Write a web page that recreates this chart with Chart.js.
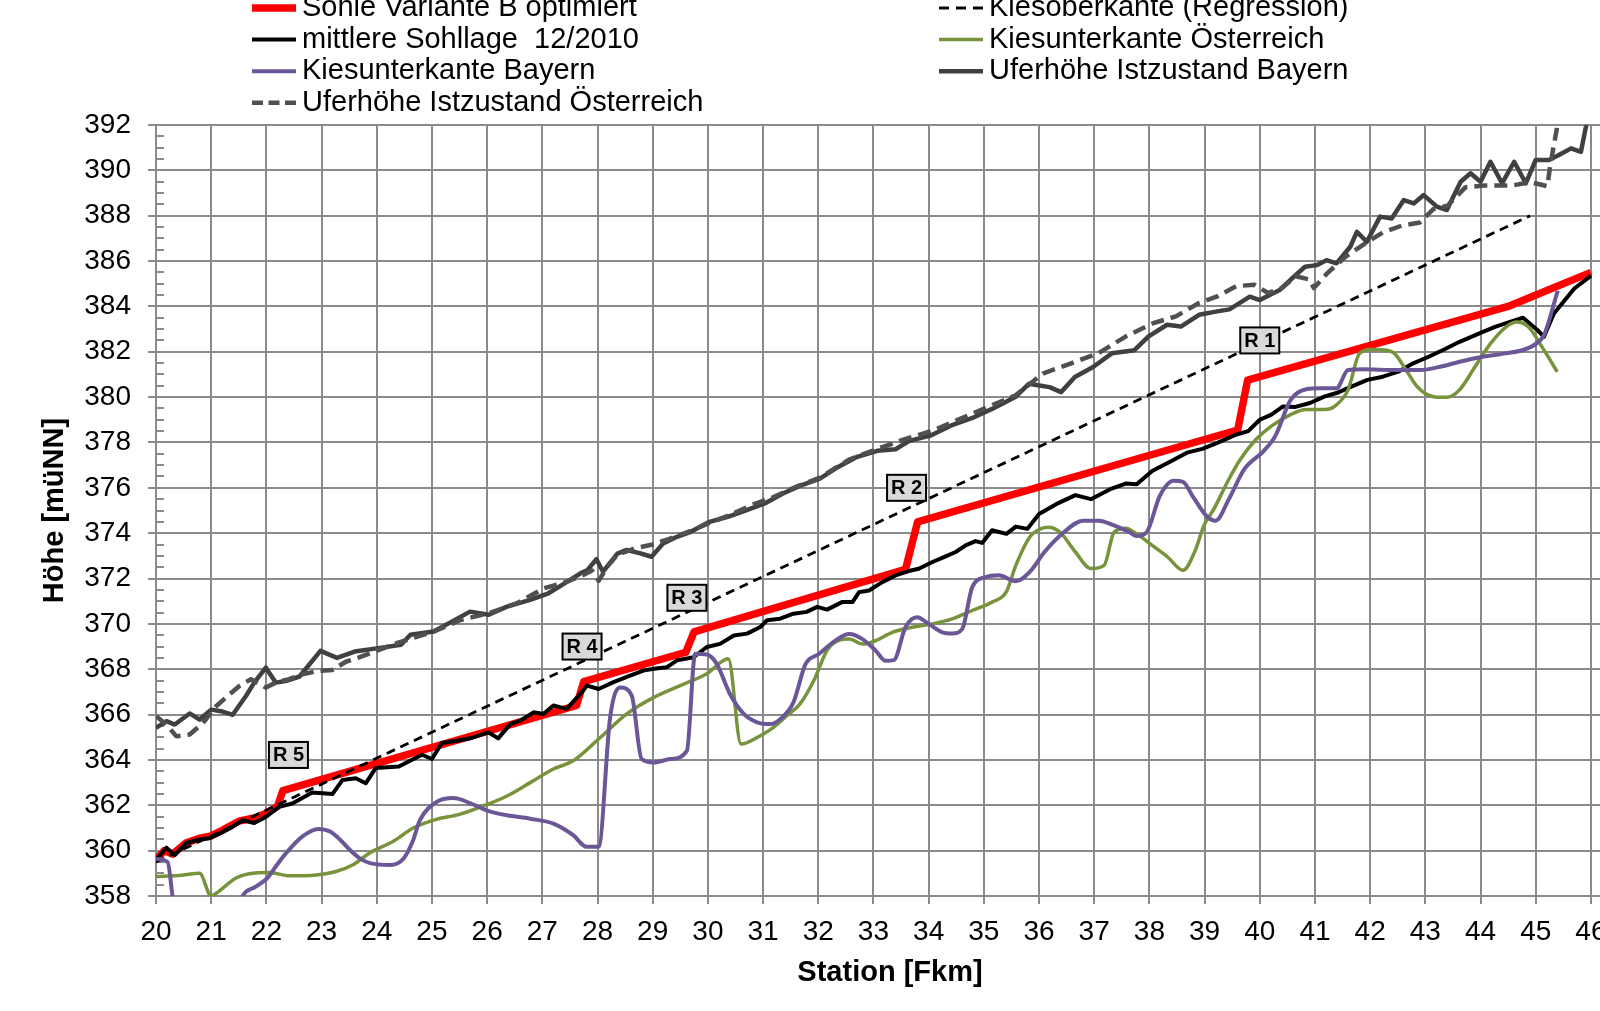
<!DOCTYPE html>
<html lang="de">
<head>
<meta charset="utf-8">
<title>Längsschnitt Sohle</title>
<script src="https://cdn.jsdelivr.net/npm/chart.js@4.4.1/dist/chart.umd.min.js"></script>
<style>
    html, body { margin: 0; padding: 0; background: #ffffff; overflow: hidden; }
    #wrap { position: relative; width: 1660px; height: 1011px; }
</style>
</head>
<body>
<div id="wrap"><canvas id="profileChart" width="1660" height="1011"></canvas></div>
<script>
// Axis ticks
const stationTicks = [20, 21, 22, 23, 24, 25, 26, 27, 28, 29, 30, 31, 32, 33, 34, 35, 36, 37, 38, 39, 40, 41, 42, 43, 44, 45, 46];
const hoeheTicks = [358, 360, 362, 364, 366, 368, 370, 372, 374, 376, 378, 380, 382, 384, 386, 388, 390, 392];

// Sohle Variante B optimiert
const sohleKm = [20.0, 20.15, 20.3, 20.55, 20.8, 21.0, 21.2, 21.5, 21.8, 22.0, 22.2, 22.3, 27.62, 27.75, 29.6, 29.75, 33.58, 33.8, 39.6, 39.78, 44.5, 46.0];
const sohleH = [359.6, 360.0, 359.85, 360.35, 360.55, 360.65, 360.9, 361.3, 361.45, 361.65, 361.95, 362.65, 366.4, 367.45, 368.75, 369.65, 372.4, 374.5, 378.55, 380.75, 384.0, 385.5];

// Kiesoberkante (Regression)
const regressionKm = [20.0, 44.9];
const regressionH = [359.5, 388.0];

// mittlere Sohllage 12/2010
const sohllageKm = [
    20.0, 20.19, 20.34, 20.55, 20.79, 20.97, 21.15, 21.35, 21.57, 21.78,
    21.99, 22.23, 22.47, 22.83, 23.2, 23.38, 23.62, 23.8, 23.98, 24.4,
    24.82, 25.0, 25.18, 25.45, 25.72, 26.02, 26.2, 26.42, 26.6, 26.84,
    27.02, 27.2, 27.44, 27.69, 27.81, 28.02, 28.29, 28.59, 28.83, 29.02,
    29.26, 29.44, 29.74, 29.98, 30.22, 30.47, 30.71, 30.95, 31.07, 31.31,
    31.55, 31.79, 31.98, 32.16, 32.43, 32.62, 32.74, 32.92, 33.16, 33.4,
    33.64, 33.82, 34.07, 34.31, 34.49, 34.67, 34.85, 34.97, 35.15, 35.41,
    35.58, 35.79, 36.0, 36.31, 36.66, 36.94, 37.29, 37.57, 37.77, 38.05,
    38.4, 38.68, 38.96, 39.24, 39.58, 39.79, 40.0, 40.21, 40.42, 40.63,
    40.91, 41.18, 41.39, 41.67, 41.95, 42.23, 42.51, 42.78, 43.06, 43.34,
    43.62, 43.97, 44.25, 44.52, 44.77, 45.03, 45.15, 45.33, 45.7, 46.0
];
const sohllageH = [
    359.6, 360.13, 359.8, 360.34, 360.49, 360.55, 360.75, 361.0, 361.34, 361.22,
    361.49, 361.93, 362.08, 362.56, 362.5, 363.12, 363.19, 362.97, 363.64, 363.71,
    364.23, 364.04, 364.75, 364.85, 364.97, 365.22, 364.95, 365.58, 365.73, 366.1,
    366.03, 366.4, 366.25, 366.91, 367.28, 367.13, 367.43, 367.72, 367.94, 368.02,
    368.09, 368.39, 368.53, 368.98, 369.12, 369.49, 369.57, 369.86, 370.16, 370.23,
    370.45, 370.53, 370.75, 370.63, 370.96, 370.96, 371.4, 371.47, 371.84, 372.14,
    372.33, 372.43, 372.73, 372.98, 373.17, 373.46, 373.65, 373.57, 374.13, 373.97,
    374.29, 374.19, 374.85, 375.28, 375.68, 375.5, 375.94, 376.19, 376.16, 376.74,
    377.18, 377.55, 377.72, 377.99, 378.35, 378.5, 379.0, 379.23, 379.59, 379.56,
    379.74, 380.03, 380.18, 380.47, 380.76, 380.9, 381.12, 381.49, 381.78, 382.1,
    382.44, 382.8, 383.09, 383.31, 383.5, 382.96, 382.66, 383.69, 384.79, 385.35
];

// Kiesunterkante Österreich
const kiesOesterreichKm = [
    20.0, 20.4, 20.79, 21.0, 21.09, 21.45, 21.69, 22.05, 22.42, 22.9,
    23.26, 23.57, 23.87, 24.3, 24.66, 25.08, 25.5, 25.93, 26.36, 26.78,
    27.2, 27.56, 28.05, 28.53, 29.02, 29.5, 29.98, 30.37, 30.6, 30.95,
    31.19, 31.43, 31.67, 31.92, 32.16, 32.37, 32.56, 32.8, 33.04, 33.34,
    33.7, 34.07, 34.43, 34.79, 35.15, 35.41, 35.58, 35.83, 36.03, 36.17,
    36.38, 36.66, 36.94, 37.18, 37.36, 37.57, 37.77, 38.05, 38.33, 38.61,
    38.82, 38.99, 39.17, 39.44, 39.65, 39.93, 40.21, 40.56, 40.84, 41.18,
    41.39, 41.6, 41.81, 42.02, 42.3, 42.44, 42.65, 42.85, 43.13, 43.38,
    43.62, 43.9, 44.18, 44.46, 44.66, 44.87, 45.15, 45.39
];
const kiesOesterreichH = [
    358.86, 358.9, 359.0, 358.0, 358.12, 358.79, 358.98, 359.04, 358.89, 358.93,
    359.08, 359.38, 359.9, 360.41, 361.0, 361.38, 361.6, 361.97, 362.41, 363.0,
    363.6, 363.96, 364.99, 366.03, 366.76, 367.28, 367.8, 368.46, 364.7, 365.07,
    365.44, 365.95, 366.47, 367.5, 368.83, 369.27, 369.33, 369.11, 369.26, 369.63,
    369.85, 370.0, 370.22, 370.59, 370.96, 371.42, 372.58, 373.82, 374.19, 374.26,
    374.04, 373.17, 372.44, 372.58, 374.04, 374.22, 373.97, 373.46, 372.95, 372.36,
    373.17, 374.34, 375.07, 376.38, 377.26, 378.13, 378.72, 379.23, 379.45, 379.45,
    379.66, 380.32, 381.93, 382.1, 382.07, 381.93, 381.2, 380.47, 380.03, 379.99,
    380.32, 381.34, 382.36, 383.09, 383.31, 383.09, 382.07, 381.12
];

// Kiesunterkante Bayern
const kiesBayernKm = [
    20.0, 20.21, 20.3, 20.4, 21.4, 21.57, 21.8, 22.0, 22.2, 22.36,
    22.66, 22.94, 23.15, 23.35, 23.51, 23.7, 23.88, 24.24, 24.48, 24.65,
    24.78, 25.08, 25.39, 25.69, 25.99, 26.36, 26.78, 27.2, 27.56, 27.8,
    28.02, 28.23, 28.41, 28.62, 28.8, 29.02, 29.32, 29.62, 29.77, 29.98,
    30.16, 30.4, 30.65, 30.89, 31.13, 31.31, 31.55, 31.77, 32.01, 32.31,
    32.56, 32.8, 33.04, 33.22, 33.37, 33.58, 33.79, 34.0, 34.25, 34.43,
    34.61, 34.79, 35.03, 35.27, 35.58, 35.83, 36.1, 36.45, 36.8, 37.08,
    37.36, 37.64, 37.77, 37.95, 38.19, 38.44, 38.61, 38.78, 39.03, 39.2,
    39.44, 39.72, 40.07, 40.28, 40.56, 40.84, 41.11, 41.39, 41.6, 41.88,
    42.3, 42.92, 43.27, 43.62, 44.04, 44.46, 44.8, 45.01, 45.15, 45.4
];
const kiesBayernH = [
    359.64, 359.5, 358.0, 356.5, 356.8, 358.0, 358.4, 358.75, 359.4, 359.9,
    360.64, 360.96, 360.85, 360.45, 360.04, 359.65, 359.45, 359.37, 359.63, 360.4,
    361.33, 362.14, 362.32, 362.1, 361.78, 361.56, 361.41, 361.19, 360.68, 360.17,
    360.17, 365.9, 367.2, 366.84, 364.04, 363.89, 364.04, 364.4, 368.68, 368.65,
    368.24, 366.91, 366.03, 365.66, 365.58, 365.8, 366.54, 368.23, 368.67, 369.26,
    369.55, 369.33, 368.82, 368.37, 368.4, 369.85, 370.29, 370.0, 369.63, 369.58,
    369.78, 371.62, 372.06, 372.15, 371.88, 372.29, 373.17, 374.04, 374.55, 374.55,
    374.34, 374.04, 373.87, 374.04, 375.65, 376.31, 376.26, 375.65, 374.77, 374.55,
    375.5, 376.82, 377.62, 378.28, 379.88, 380.35, 380.39, 380.39, 381.2, 381.23,
    381.2, 381.2, 381.34, 381.56, 381.78, 381.93, 382.1, 382.36, 382.73, 384.7
];

// Uferhöhe Istzustand Bayern
const uferBayernKm = [
    20.0, 20.19, 20.34, 20.61, 20.79, 21.0, 21.18, 21.39, 21.63, 21.78,
    21.99, 22.17, 22.35, 22.6, 22.98, 23.28, 23.6, 24.03, 24.44, 24.61,
    25.03, 25.36, 25.69, 26.03, 26.36, 26.78, 27.11, 27.36, 27.69, 27.82,
    27.98, 28.1, 28.36, 28.53, 28.78, 28.98, 29.19, 29.44, 29.69, 30.03,
    30.36, 30.69, 31.03, 31.36, 31.69, 32.03, 32.36, 32.69, 33.07, 33.4,
    33.65, 34.03, 34.4, 34.82, 35.15, 35.57, 35.82, 35.98, 36.19, 36.4,
    36.65, 36.98, 37.32, 37.73, 37.98, 38.32, 38.57, 38.9, 39.23, 39.45,
    39.82, 40.0, 40.36, 40.57, 40.82, 41.03, 41.21, 41.39, 41.64, 41.76,
    41.94, 42.18, 42.39, 42.61, 42.79, 42.97, 43.21, 43.39, 43.64, 43.82,
    44.0, 44.18, 44.39, 44.61, 44.82, 45.0, 45.24, 45.42, 45.64, 45.82,
    45.91, 45.98
];
const uferBayernH = [
    365.41, 365.71, 365.56, 366.05, 365.78, 366.22, 366.15, 365.99, 366.82, 367.41,
    368.07, 367.41, 367.48, 367.68, 368.81, 368.5, 368.78, 368.93, 369.08, 369.52,
    369.66, 370.1, 370.54, 370.4, 370.76, 371.06, 371.35, 371.72, 372.23, 372.38,
    372.85, 372.3, 373.1, 373.26, 373.11, 372.96, 373.55, 373.84, 374.06, 374.5,
    374.72, 375.01, 375.31, 375.75, 376.11, 376.41, 376.92, 377.35, 377.63, 377.7,
    378.07, 378.3, 378.74, 379.11, 379.48, 380.0, 380.59, 380.52, 380.44, 380.22,
    380.89, 381.33, 381.93, 382.07, 382.67, 383.19, 383.11, 383.63, 383.78, 383.87,
    384.43, 384.28, 384.72, 385.2, 385.75, 385.82, 386.04, 385.9, 386.63, 387.29,
    386.85, 387.96, 387.88, 388.69, 388.54, 388.91, 388.4, 388.25, 389.5, 389.87,
    389.5, 390.38, 389.43, 390.38, 389.43, 390.46, 390.46, 390.68, 390.97, 390.82,
    391.93, 393.0
];

// Uferhöhe Istzustand Österreich
const uferOesterreichKm = [
    20.0, 20.19, 20.37, 20.61, 20.85, 21.09, 21.33, 21.51, 21.72, 21.99,
    22.17, 22.41, 22.65, 22.95, 23.2, 23.44, 23.68, 23.92, 24.4, 25.03,
    25.53, 26.03, 26.53, 27.03, 27.36, 27.7, 27.9, 28.02, 28.2, 28.36,
    28.7, 29.0, 29.3, 29.69, 30.03, 30.4, 30.8, 31.2, 31.6, 32.03,
    32.36, 32.57, 32.9, 33.57, 34.07, 34.57, 35.07, 35.57, 36.07, 36.57,
    37.07, 37.57, 38.07, 38.48, 38.9, 39.23, 39.57, 39.9, 40.15, 40.4,
    40.65, 40.9, 40.98, 41.23, 41.57, 41.98, 42.23, 42.57, 42.9, 43.15,
    43.4, 43.73, 44.07, 44.57, 44.9, 45.21, 45.27, 45.39, 45.45
];
const uferOesterreichH = [
    365.93, 365.56, 365.04, 365.12, 365.63, 366.37, 366.89, 367.26, 367.56, 367.19,
    367.41, 367.56, 367.78, 367.93, 367.97, 368.33, 368.52, 368.74, 369.18, 369.66,
    370.18, 370.47, 370.9, 371.57, 371.79, 372.1, 372.35, 371.9, 372.6, 373.04,
    373.35, 373.5, 373.75, 374.1, 374.45, 374.8, 375.25, 375.6, 376.05, 376.45,
    376.95, 377.26, 377.56, 378.15, 378.52, 379.04, 379.56, 380.07, 381.04, 381.48,
    381.93, 382.67, 383.26, 383.56, 384.15, 384.44, 384.89, 384.96, 384.59, 384.81,
    385.33, 385.19, 384.81, 385.48, 386.22, 386.89, 387.26, 387.56, 387.7, 388.3,
    388.44, 389.26, 389.33, 389.33, 389.48, 389.3, 390.31, 391.93, 393.0
];

// Rampen labels
const rampLabels = ['R 1', 'R 2', 'R 3', 'R 4', 'R 5'];
const rampKm = [40.0, 33.6, 29.62, 27.72, 22.4];
const rampH = [382.5, 376.0, 371.15, 369.0, 364.22];

const FONT = '"Liberation Sans", Arial, sans-serif';
const gridColor = '#8a8a8a';

const toPoints = (km, h) => km.map((x, i) => ({ x, y: h[i] }));

// Excel series order: first one lies at the bottom, legend fills two columns row by row
const datasets = [{
    label: 'Sohle Variante B optimiert',
    data: toPoints(sohleKm, sohleH),
    borderColor: '#ff0000',
    borderWidth: 7.5
}, {
    label: 'Kiesoberkante (Regression)',
    data: toPoints(regressionKm, regressionH),
    borderColor: '#000000',
    borderWidth: 2.8,
    borderDash: [9, 6],
    legendDash: [10, 7]
}, {
    label: 'mittlere Sohllage  12/2010',
    data: toPoints(sohllageKm, sohllageH),
    borderColor: '#000000',
    borderWidth: 4
}, {
    label: 'Kiesunterkante Österreich',
    data: toPoints(kiesOesterreichKm, kiesOesterreichH),
    borderColor: '#77933c',
    borderWidth: 3.5,
    cubicInterpolationMode: 'monotone'
}, {
    label: 'Kiesunterkante Bayern',
    data: toPoints(kiesBayernKm, kiesBayernH),
    borderColor: '#6b5797',
    borderWidth: 4,
    cubicInterpolationMode: 'monotone'
}, {
    label: 'Uferhöhe Istzustand Bayern',
    data: toPoints(uferBayernKm, uferBayernH),
    borderColor: '#404040',
    borderWidth: 4.5
}, {
    label: 'Uferhöhe Istzustand Österreich',
    data: toPoints(uferOesterreichKm, uferOesterreichH),
    borderColor: '#505050',
    borderWidth: 4.5,
    borderDash: [13, 7],
    legendDash: [11, 5.5]
}];

datasets.forEach((ds, i) => {
    ds.order = datasets.length - i;
    ds.pointRadius = 0;
    ds.fill = false;
    ds.tension = 0;
    ds.borderJoinStyle = 'round';
});

// minor ticks, ramp boxes and the two column legend
const extrasPlugin = {
    id: 'profileExtras',
    beforeDatasetsDraw(chart) {
        const { ctx, chartArea, scales: { y } } = chart;
        ctx.save();
        ctx.strokeStyle = gridColor;
        ctx.lineWidth = 2;
        for (let i = 0; i < hoeheTicks.length - 1; i++) {
            [0.5, 1, 1.5].forEach(step => {
                const py = Math.round(y.getPixelForValue(hoeheTicks[i] + step));
                ctx.beginPath();
                ctx.moveTo(chartArea.left, py);
                ctx.lineTo(chartArea.left + 8, py);
                ctx.stroke();
            });
        }
        ctx.restore();
    },
    afterDatasetsDraw(chart) {
        const { ctx, scales: { x, y } } = chart;
        ctx.save();
        ctx.font = 'bold 20px ' + FONT;
        ctx.textAlign = 'center';
        ctx.textBaseline = 'middle';
        rampLabels.forEach((text, i) => {
            const cx = x.getPixelForValue(rampKm[i]);
            const cy = y.getPixelForValue(rampH[i]);
            const w = 39, h = 26;
            ctx.fillStyle = '#d9d9d9';
            ctx.fillRect(cx - w / 2, cy - h / 2, w, h);
            ctx.strokeStyle = '#000000';
            ctx.lineWidth = 2;
            ctx.strokeRect(cx - w / 2, cy - h / 2, w, h);
            ctx.fillStyle = '#000000';
            ctx.fillText(text, cx, cy + 1);
        });
        ctx.restore();
    },
    afterDraw(chart) {
        const ctx = chart.ctx;
        const columnX = [252, 939];
        const firstRow = 8;
        const rowStep = 31.6;
        ctx.save();
        ctx.font = '29px ' + FONT;
        ctx.textBaseline = 'middle';
        ctx.textAlign = 'left';
        chart.data.datasets.forEach((ds, i) => {
            const x0 = columnX[i % 2];
            const yy = firstRow + Math.floor(i / 2) * rowStep;
            ctx.beginPath();
            ctx.strokeStyle = ds.borderColor;
            ctx.lineWidth = ds.borderWidth;
            ctx.setLineDash(ds.legendDash || []);
            ctx.moveTo(x0, yy);
            ctx.lineTo(x0 + 44, yy);
            ctx.stroke();
            ctx.setLineDash([]);
            ctx.fillStyle = '#000000';
            ctx.fillText(ds.label, x0 + 50, yy);
        });
        ctx.restore();
    }
};

new Chart(document.getElementById('profileChart'), {
    type: 'line',
    data: { datasets },
    plugins: [extrasPlugin],
    options: {
        responsive: false,
        animation: false,
        events: [],
        layout: {
            padding: { left: 10, top: 125, right: 36, bottom: 0 }
        },
        plugins: {
            legend: { display: false },
            tooltip: { enabled: false }
        },
        scales: {
            x: {
                type: 'linear',
                min: 20,
                max: 46.6,
                afterBuildTicks: scale => {
                    scale.ticks = stationTicks.map(value => ({ value }));
                },
                afterFit: scale => {
                    scale.height = 115;
                },
                ticks: {
                    color: '#000000',
                    padding: 11,
                    maxRotation: 0,
                    autoSkip: false,
                    font: { family: FONT, size: 28 }
                },
                grid: {
                    color: gridColor,
                    lineWidth: 2,
                    tickLength: 8
                },
                border: { color: gridColor, width: 2 },
                title: {
                    display: true,
                    text: 'Station [Fkm]',
                    color: '#000000',
                    padding: { top: 0, bottom: 21 },
                    font: { family: FONT, size: 29, weight: 'bold' }
                }
            },
            y: {
                min: 358,
                max: 392,
                afterBuildTicks: scale => {
                    scale.ticks = hoeheTicks.map(value => ({ value }));
                },
                afterFit: scale => {
                    scale.width = 146;
                },
                ticks: {
                    color: '#000000',
                    padding: 17,
                    autoSkip: false,
                    font: { family: FONT, size: 28 }
                },
                grid: {
                    color: gridColor,
                    lineWidth: 2,
                    tickLength: 8
                },
                border: { color: gridColor, width: 2 },
                title: {
                    display: true,
                    text: 'Höhe [müNN]',
                    color: '#000000',
                    padding: { top: 28, bottom: 0 },
                    font: { family: FONT, size: 29, weight: 'bold' }
                }
            }
        }
    }
});
</script>
</body>
</html>
